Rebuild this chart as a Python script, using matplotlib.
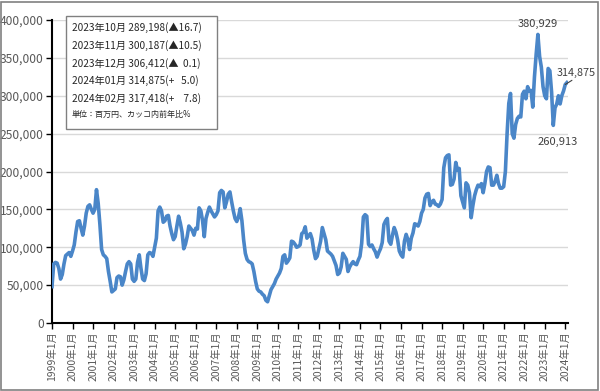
import matplotlib
matplotlib.use('Agg')
import matplotlib.pyplot as plt
from matplotlib.patches import Rectangle
from matplotlib.ticker import FuncFormatter

plt.rcParams['font.family'] = ['Noto Sans CJK JP', 'DejaVu Sans']

# monthly values, thousand-yen units x1000 (millions of yen), Jan 1999 - Feb 2024
v1999 = [48, 78, 80, 79, 72, 58, 64, 78, 89, 91, 93, 88]
v2000 = [95, 103, 120, 134, 135, 125, 116, 128, 145, 154, 156, 150]
v2001 = [145, 150, 176, 158, 130, 97, 90, 88, 85, 68, 55, 41]
v2002 = [43, 45, 60, 62, 61, 50, 57, 68, 78, 81, 78, 58]
v2003 = [55, 58, 80, 90, 72, 58, 56, 65, 90, 93, 92, 88]
v2004 = [100, 112, 148, 153, 148, 133, 135, 141, 142, 128, 118, 110]
v2005 = [114, 128, 141, 132, 120, 98, 104, 114, 128, 125, 122, 116]
v2006 = [125, 124, 152, 148, 135, 114, 138, 146, 153, 148, 144, 140]
v2007 = [143, 148, 172, 175, 173, 152, 160, 170, 173, 160, 148, 138]
v2008 = [134, 140, 151, 135, 110, 92, 84, 81, 80, 78, 68, 55]
v2009 = [45, 42, 41, 38, 36, 30, 28, 36, 44, 48, 52, 58]
v2010 = [62, 66, 72, 88, 90, 79, 82, 86, 108, 107, 104, 100]
v2011 = [101, 103, 118, 120, 127, 112, 115, 118, 111, 96, 85, 88]
v2012 = [98, 108, 126, 118, 110, 95, 93, 91, 88, 82, 76, 64]
v2013 = [66, 74, 92, 88, 84, 68, 74, 78, 81, 78, 77, 83]
v2014 = [88, 105, 140, 143, 141, 104, 101, 103, 98, 94, 87, 93]
v2015 = [98, 106, 130, 135, 138, 108, 104, 116, 126, 120, 110, 95]
v2016 = [90, 87, 108, 117, 110, 97, 112, 119, 131, 130, 128, 134]
v2017 = [145, 150, 165, 170, 171, 155, 160, 162, 157, 156, 154, 157]
v2018 = [163, 205, 218, 221, 222, 182, 183, 190, 212, 202, 204, 168]
v2019 = [160, 152, 185, 182, 172, 139, 155, 168, 176, 182, 180, 184]
v2020 = [172, 184, 200, 206, 205, 182, 182, 187, 195, 184, 178, 178]
v2021 = [180, 200, 250, 290, 303, 250, 244, 262, 270, 273, 272, 302]
v2022 = [306, 296, 312, 306, 307, 285, 325, 355, 380.929, 352, 338, 312]
v2023 = [300, 296, 336, 333, 305, 260.913, 284, 289, 300, 289.198, 300.187, 306.412]
v2024 = [314.875, 317.418]

years = list(range(1999, 2025))
values = [x * 1000 for x in (v1999 + v2000 + v2001 + v2002 + v2003 + v2004 + v2005 + v2006
                             + v2007 + v2008 + v2009 + v2010 + v2011 + v2012 + v2013 + v2014
                             + v2015 + v2016 + v2017 + v2018 + v2019 + v2020 + v2021 + v2022
                             + v2023 + v2024)]
months = list(range(len(values)))

box_lines = ['2023年10月 289,198(▲16.7)',
             '2023年11月 300,187(▲10.5)',
             '2023年12月 306,412(▲  0.1)',
             '2024年01月 314,875(+   5.0)',
             '2024年02月 317,418(+    7.8)']
box_note = '単位：百万円、カッコ内前年比%'

fig = plt.figure(figsize=(6, 3.91), dpi=100)
fig.patches.append(Rectangle((0.002, 0.003), 0.995, 0.993, transform=fig.transFigure,
                             fill=False, edgecolor='#808080', linewidth=1.2))

ax = fig.add_axes([52 / 600, 68 / 391, 516 / 600, 303 / 391])
ax.plot(months, values, color='#4a86c8', linewidth=2.6, solid_joinstyle='round', zorder=3)

ax.set_xlim(0, 301.6)
ax.set_ylim(0, 400000)
ax.set_yticks(range(0, 400001, 50000))
ax.yaxis.set_major_formatter(FuncFormatter(lambda v, p: '{:,.0f}'.format(v)))
ax.set_xticks([12 * (y - 1999) for y in years])
ax.set_xticklabels(['{}年1月'.format(y) for y in years], rotation=90)
ax.tick_params(axis='x', labelsize=7.5, colors='#595959', length=4, width=1, color='black', pad=2)
ax.tick_params(axis='y', labelsize=8.7, colors='#595959', length=4, width=1, color='black', pad=2)

ax.grid(axis='y', color='#d9d9d9', linewidth=1)
ax.set_axisbelow(True)
for s in ['top', 'right']:
    ax.spines[s].set_visible(False)
ax.spines['left'].set_linewidth(1.5)
ax.spines['bottom'].set_linewidth(1.5)

# data labels
ipk = values.index(max(values))
ax.annotate('{:,.0f}'.format(values[ipk]), xy=(ipk, values[ipk]), xytext=(0, 4),
            textcoords='offset points', ha='center', va='bottom', fontsize=8, color='#404040')
imn = 293
ax.annotate('{:,.0f}'.format(values[imn]), xy=(imn, values[imn]), xytext=(3, -8),
            textcoords='offset points', ha='center', va='top', fontsize=8, color='#404040')
ax.annotate('{:,.0f}'.format(values[300]), xy=(300, values[300]), xytext=(8, 5),
            textcoords='offset points', ha='center', va='bottom', fontsize=7.8, color='#404040',
            arrowprops=dict(arrowstyle='-', color='#404040', lw=0.8,
                            shrinkA=0, shrinkB=0, relpos=(0.5, 0)),
            annotation_clip=False)

# info box
fig.patches.append(Rectangle((66 / 600, 1 - 129 / 391), 151 / 600, 113 / 391,
                             transform=fig.transFigure, facecolor='white',
                             edgecolor='#808080', linewidth=1, zorder=5))
for i, t in enumerate(box_lines):
    fig.text(72 / 600, 1 - (28 + 17.6 * i) / 391, t, fontsize=7.3, color='#262626',
             va='center', ha='left', zorder=6)
fig.text(72 / 600, 1 - 114 / 391, box_note, fontsize=5.8, color='#262626',
         va='center', ha='left', zorder=6)

plt.savefig('out.png', dpi=100)
